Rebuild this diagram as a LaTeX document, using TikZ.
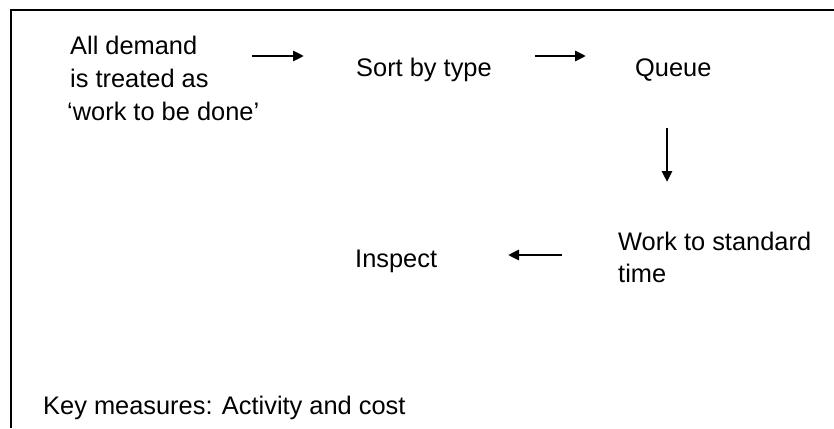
\documentclass[tikz,border=0pt]{standalone}
\usepackage{fontspec}
\setmainfont{Liberation Sans}
\usetikzlibrary{arrows.meta}
\begin{document}
\begin{tikzpicture}[x=1pt,y=-1pt,
  lbl/.style={anchor=base west, inner sep=0pt, font=\fontsize{25.4}{29}\selectfont},
  flow/.style={line width=2.8pt, -{Triangle[length=11pt,width=10pt]}}]
\useasboundingbox (0,0) rectangle (834,428);
% open frame: top and left edges only
\draw[line width=2pt] (11,428) -- (11,10) -- (834,10);

% labels
\node[lbl] (d1) at (70,55) {All demand};
\node[lbl] (d2) at (70,87) {is treated as};
\node[lbl] (d3) at (67,120) {`work to be done'};
\node[lbl] (sort) at (356,76) {Sort by type};
\node[lbl] (queue) at (635,76) {Queue};
\node[lbl] (work1) at (618,250) {Work to standard};
\node[lbl] (work2) at (618,282) {time};
\node[lbl] (insp) at (355,267) {Inspect};
\node[lbl] (key) at (43,414) {Key measures: Activity and cost};

% arrow end points
\coordinate (a1s) at (252,56);
\coordinate (a1e) at (304,56);
\coordinate (a2s) at (535,56);
\coordinate (a2e) at (586,56);
\coordinate (a3s) at (667,128);
\coordinate (a3e) at (667,182);
\coordinate (a4s) at (562,255);
\coordinate (a4e) at (508,255);

\draw[flow] (a1s) -- (a1e);
\draw[flow] (a2s) -- (a2e);
\draw[flow] (a3s) -- (a3e);
\draw[flow] (a4s) -- (a4e);
\end{tikzpicture}
\end{document}
